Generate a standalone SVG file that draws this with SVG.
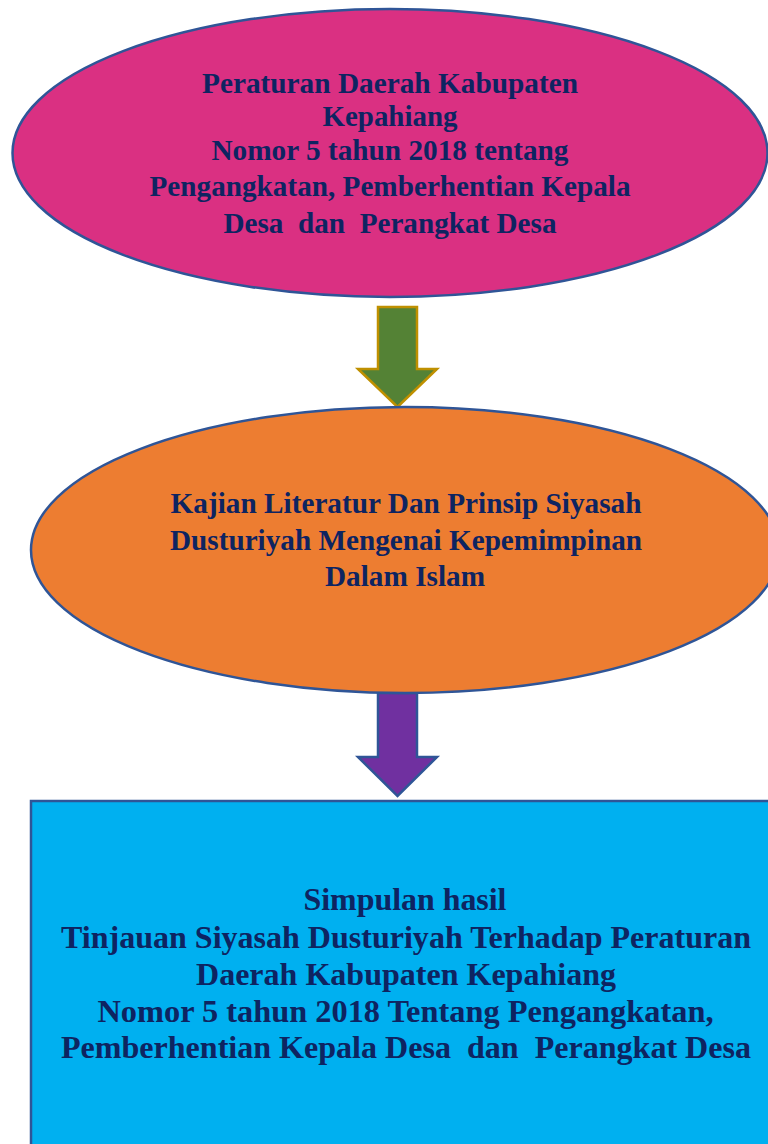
<svg xmlns="http://www.w3.org/2000/svg" width="768" height="1144" viewBox="0 0 768 1144">
<style>
.node{stroke:#2F5597;stroke-width:2.5}
.t{font-family:"Liberation Serif","Times New Roman",serif;font-weight:bold;font-size:28.5px;fill:#0E2461;text-anchor:middle}
.t2{font-size:30.5px}
</style>
<rect width="768" height="1144" fill="#FFFFFF"/>
<g id="connectors">
<path id="arrow1" d="M378,307 H417 V369 H437 L397.5,407 L358,369 H378 Z" fill="#548235" stroke="#BF9000" stroke-width="2.5" stroke-linejoin="miter"/>
<path id="arrow2" d="M378,693 H417 V757 H437 L397.5,796 L358,757 H378 Z" fill="#7030A0" stroke="#2F5597" stroke-width="2.5" stroke-linejoin="miter"/>
</g>
<g id="node-perda">
<ellipse class="node" cx="390" cy="153" rx="377.5" ry="144" fill="#DA3082"/>
<text class="t" xml:space="preserve" x="390" y="93" textLength="376" lengthAdjust="spacingAndGlyphs">Peraturan Daerah Kabupaten</text>
<text class="t" xml:space="preserve" x="390" y="126" textLength="135" lengthAdjust="spacingAndGlyphs">Kepahiang</text>
<text class="t" xml:space="preserve" x="390" y="160" textLength="357" lengthAdjust="spacingAndGlyphs">Nomor 5 tahun 2018 tentang</text>
<text class="t" xml:space="preserve" x="390" y="196" textLength="481" lengthAdjust="spacingAndGlyphs">Pengangkatan, Pemberhentian Kepala</text>
<text class="t" xml:space="preserve" x="390" y="233" textLength="333" lengthAdjust="spacingAndGlyphs">Desa  dan  Perangkat Desa</text>
</g>
<g id="node-kajian">
<ellipse class="node" cx="405" cy="550" rx="374" ry="143" fill="#ED7D31"/>
<text class="t" xml:space="preserve" x="406" y="513" textLength="471" lengthAdjust="spacingAndGlyphs">Kajian Literatur Dan Prinsip Siyasah</text>
<text class="t" xml:space="preserve" x="406" y="550" textLength="472" lengthAdjust="spacingAndGlyphs">Dusturiyah Mengenai Kepemimpinan</text>
<text class="t" xml:space="preserve" x="405" y="586" textLength="160" lengthAdjust="spacingAndGlyphs">Dalam Islam</text>
</g>
<g id="node-simpulan">
<rect class="node" x="31" y="801" width="760" height="360" fill="#00B0F0"/>
<text class="t t2" xml:space="preserve" x="405" y="910" textLength="203" lengthAdjust="spacingAndGlyphs">Simpulan hasil</text>
<text class="t t2" xml:space="preserve" x="406" y="948" textLength="690" lengthAdjust="spacingAndGlyphs">Tinjauan Siyasah Dusturiyah Terhadap Peraturan</text>
<text class="t t2" xml:space="preserve" x="406" y="985" textLength="420" lengthAdjust="spacingAndGlyphs">Daerah Kabupaten Kepahiang</text>
<text class="t t2" xml:space="preserve" x="405.5" y="1022" textLength="616" lengthAdjust="spacingAndGlyphs">Nomor 5 tahun 2018 Tentang Pengangkatan,</text>
<text class="t t2" xml:space="preserve" x="406" y="1058" textLength="690" lengthAdjust="spacingAndGlyphs">Pemberhentian Kepala Desa  dan  Perangkat Desa</text>
</g>
</svg>
